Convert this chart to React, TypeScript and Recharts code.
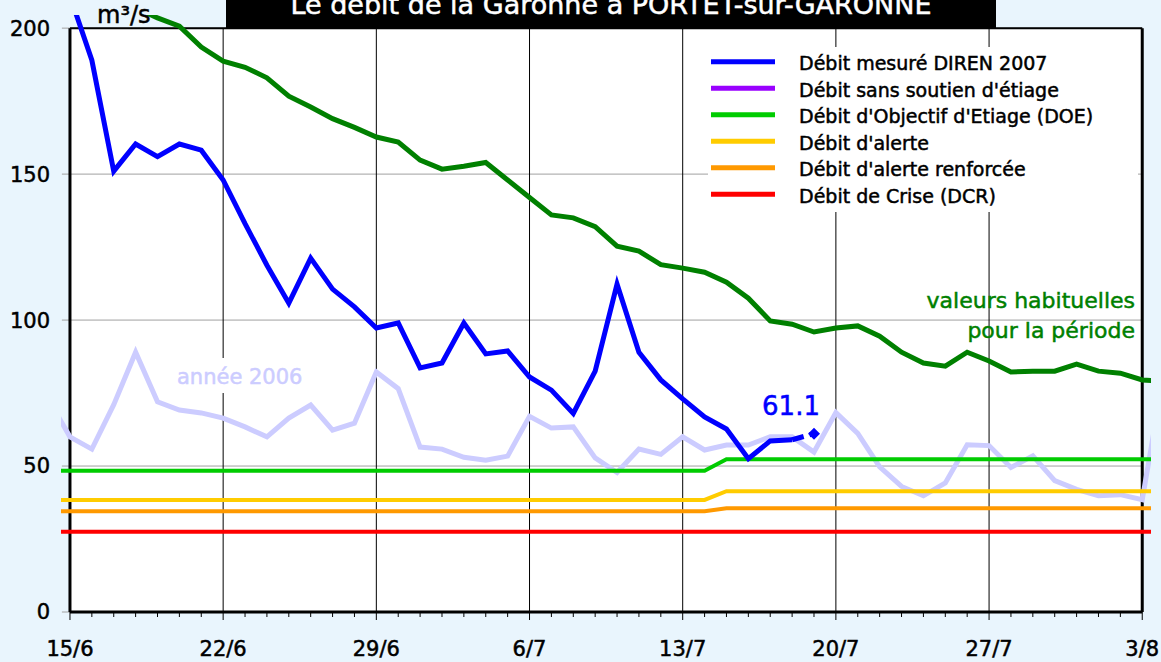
import React from "react"
import {
    LineChart,
    Line,
    XAxis,
    YAxis,
    ReferenceLine,
    ReferenceArea,
    Legend,
    LabelList,
} from "recharts"

// --- data (m³/s per day, day 0 = 15/6) ---
const firstDay = -1
const lastDay = 50
const weekTicks = [0, 7, 14, 21, 28, 35, 42, 49]
const weekLabels = ["15/6", "22/6", "29/6", "6/7", "13/7", "20/7", "27/7", "3/8"]
const yTicks = [0, 50, 100, 150, 200]

// measured flow 2007, starts at day 0
const mesure2007Start = 0
const mesure2007 = [
    211, 189, 151, 160.3, 156, 160.3, 158.2, 148, 133, 118.8,
    105.8, 121.2, 110.6, 104.5, 97.3, 99, 83.6, 85.3, 99, 88.4,
    89.4, 80.5, 76, 68, 82.5, 112.3, 89, 79.5, 73, 66.8,
    62.7, 52.5, 58.6, 59,
]
// dashed last estimate (day 33 -> day 34)
const estimeStart = 33
const estime = [59, 61.1]

// usual values for the period, starts at day 3
const habituelStart = 3
const habituel = [
    207, 203.5, 200.7, 193.5, 188.7, 186.6, 183, 176.7, 173, 169,
    166, 162.7, 161, 154.8, 151.7, 152.7, 154, 148, 142, 136,
    135, 132, 125.3, 123.6, 119, 117.8, 116.4, 113, 107.5, 99.7,
    98.6, 95.9, 97.3, 98, 94.5, 89, 85.3, 84.2, 89, 86,
    82.2, 82.5, 82.5, 84.9, 82.5, 81.8, 79.5, 79,
]

// year 2006, day -1 .. 50
const annee2006 = [
    73, 60, 55.8, 71, 89, 72, 69.2, 68.2, 66.4, 63.4,
    60, 66.4, 70.9, 62.3, 64.7, 82.2, 76.5, 56.5, 55.8, 53,
    52, 53.4, 67, 63, 63.4, 52.8, 47.8, 55.8, 54, 60,
    55.5, 57.2, 57.2, 60, 60, 54.8, 68.3, 61.2, 49.7, 43,
    39.8, 44.2, 57.3, 57, 49.5, 53.5, 45, 42, 39.8, 40.2,
    38.5, 82,
]

// thresholds, day -1 .. 50
const doe = [
    48.4, 48.4, 48.4, 48.4, 48.4, 48.4, 48.4, 48.4, 48.4, 48.4,
    48.4, 48.4, 48.4, 48.4, 48.4, 48.4, 48.4, 48.4, 48.4, 48.4,
    48.4, 48.4, 48.4, 48.4, 48.4, 48.4, 48.4, 48.4, 48.4, 48.4,
    48.4, 52.3, 52.3, 52.3, 52.3, 52.3, 52.3, 52.3, 52.3, 52.3,
    52.3, 52.3, 52.3, 52.3, 52.3, 52.3, 52.3, 52.3, 52.3, 52.3,
    52.3, 52.3,
]
const alerte = [
    38.4, 38.4, 38.4, 38.4, 38.4, 38.4, 38.4, 38.4, 38.4, 38.4,
    38.4, 38.4, 38.4, 38.4, 38.4, 38.4, 38.4, 38.4, 38.4, 38.4,
    38.4, 38.4, 38.4, 38.4, 38.4, 38.4, 38.4, 38.4, 38.4, 38.4,
    38.4, 41.4, 41.4, 41.4, 41.4, 41.4, 41.4, 41.4, 41.4, 41.4,
    41.4, 41.4, 41.4, 41.4, 41.4, 41.4, 41.4, 41.4, 41.4, 41.4,
    41.4, 41.4,
]
const renforcee = [
    34.5, 34.5, 34.5, 34.5, 34.5, 34.5, 34.5, 34.5, 34.5, 34.5,
    34.5, 34.5, 34.5, 34.5, 34.5, 34.5, 34.5, 34.5, 34.5, 34.5,
    34.5, 34.5, 34.5, 34.5, 34.5, 34.5, 34.5, 34.5, 34.5, 34.5,
    34.5, 35.5, 35.5, 35.5, 35.5, 35.5, 35.5, 35.5, 35.5, 35.5,
    35.5, 35.5, 35.5, 35.5, 35.5, 35.5, 35.5, 35.5, 35.5, 35.5,
    35.5, 35.5,
]
const crise = [
    27.5, 27.5, 27.5, 27.5, 27.5, 27.5, 27.5, 27.5, 27.5, 27.5,
    27.5, 27.5, 27.5, 27.5, 27.5, 27.5, 27.5, 27.5, 27.5, 27.5,
    27.5, 27.5, 27.5, 27.5, 27.5, 27.5, 27.5, 27.5, 27.5, 27.5,
    27.5, 27.5, 27.5, 27.5, 27.5, 27.5, 27.5, 27.5, 27.5, 27.5,
    27.5, 27.5, 27.5, 27.5, 27.5, 27.5, 27.5, 27.5, 27.5, 27.5,
    27.5, 27.5,
]

const legendItems = [
    { name: "Débit mesuré DIREN 2007", color: "#0000ff" },
    { name: "Débit sans soutien d'étiage", color: "#9900ff" },
    { name: "Débit d'Objectif d'Etiage (DOE)", color: "#00cc00" },
    { name: "Débit d'alerte", color: "#ffcc00" },
    { name: "Débit d'alerte renforcée", color: "#ff9900" },
    { name: "Débit de Crise (DCR)", color: "#ff0000" },
]

const FONT = "'DejaVu Sans', Verdana, sans-serif"
const BG = "#e9f5fd"
// a thin outline makes DejaVu look like the heavier Verdana of the original
const heavy = (color: string) => ({ fill: color, stroke: color, strokeWidth: 0.5 })

const pick = (arr: number[], start: number, day: number) => {
    const v = arr[day - start]
    return v === undefined ? null : v
}

const rows: any[] = []
for (let day = firstDay; day <= lastDay; day++) {
    rows.push({
        day,
        mesure: pick(mesure2007, mesure2007Start, day),
        estime: pick(estime, estimeStart, day),
        habituel: pick(habituel, habituelStart, day),
        a2006: pick(annee2006, firstDay, day),
        doe: pick(doe, firstDay, day),
        alerte: pick(alerte, firstDay, day),
        renforcee: pick(renforcee, firstDay, day),
        crise: pick(crise, firstDay, day),
    })
}

const allDays = rows.map((r) => r.day).filter((d) => d >= 0 && d <= 49)

const DayTick = (props: any) => {
    const { x, y, payload } = props
    const idx = weekTicks.indexOf(payload.value)
    const major = idx >= 0
    return (
        <g>
            <line x1={x} x2={x} y1={y} y2={y + (major ? 8 : 5)} stroke="#000" strokeWidth={1} />
            {major && (
                <text x={x} y={y + 44} textAnchor="middle" fontSize={21} fontFamily={FONT} {...heavy("#000")}>
                    {weekLabels[idx]}
                </text>
            )}
        </g>
    )
}

const LegendBox = () => (
    <svg width={430} height={165} style={{ display: "block", background: "#fff" }}>
        {legendItems.map((it, i) => (
            <g key={it.name}>
                <line
                    x1={3}
                    x2={67}
                    y1={14.7 + i * 26.5}
                    y2={14.7 + i * 26.5}
                    stroke={it.color}
                    strokeWidth={5}
                />
                <text x={91} y={23 + i * 26.5} fontSize={19} fontFamily={FONT} {...heavy("#000")}>
                    {it.name}
                </text>
            </g>
        ))}
    </svg>
)

const lastEstimateDay = estimeStart + estime.length - 1

const EstimateDot = (p: any) => {
    if (p.payload?.day !== lastEstimateDay || p.cx == null) return <g key={p.index} />
    const { cx, cy } = p
    return (
        <path
            key={p.index}
            d={`M${cx},${cy - 6} L${cx + 6},${cy} L${cx},${cy + 6} L${cx - 6},${cy} Z`}
            fill="#0000ff"
        />
    )
}

const EstimateLabel = (p: any) => {
    const x = p.x ?? p.viewBox?.x
    const y = p.y ?? p.viewBox?.y
    if (p.value !== estime[estime.length - 1] || x == null) return null
    return (
        <text x={x - 23} y={y - 19} textAnchor="middle" fontSize={26} fontFamily={FONT} {...heavy("#0000ff")}>
            {p.value}
        </text>
    )
}

export default function App() {
    return (
        <div
            style={{
                position: "fixed",
                left: 0,
                top: 0,
                width: 1161,
                height: 662,
                background: BG,
                fontFamily: FONT,
            }}
        >
            <LineChart
                width={1161}
                height={662}
                data={rows}
                margin={{ top: 15, right: 10, bottom: 0, left: 11 }}
            >
                <XAxis
                    dataKey="day"
                    type="number"
                    domain={[-0.41, 49.4]}
                    allowDataOverflow
                    ticks={allDays}
                    interval={0}
                    tick={<DayTick />}
                    tickSize={0}
                    tickMargin={0}
                    axisLine={false}
                    tickLine={false}
                    height={50}
                />
                <YAxis
                    type="number"
                    domain={[0, 204.5]}
                    allowDataOverflow
                    ticks={yTicks}
                    interval={0}
                    tick={{ fontSize: 21, fontFamily: FONT, ...heavy("#000") }}
                    tickSize={0}
                    tickMargin={11}
                    axisLine={false}
                    tickLine={false}
                    width={50}
                />

                {/* white plot area */}
                <ReferenceArea x1={0} x2={49} y1={0} y2={200} fill="#fff" fillOpacity={1} stroke="none" />

                {/* horizontal grid + y tick marks */}
                {yTicks.map((v) => (
                    <ReferenceLine
                        key={"h" + v}
                        segment={[{ x: -0.37, y: v }, { x: 49, y: v }]}
                        stroke="#a0a0a0"
                        strokeWidth={1}
                    />
                ))}
                {/* weekly vertical grid */}
                {weekTicks.slice(1, -1).map((d) => (
                    <ReferenceLine
                        key={"v" + d}
                        segment={[{ x: d, y: 0 }, { x: d, y: 200 }]}
                        stroke="#000"
                        strokeWidth={1}
                    />
                ))}
                {/* frame */}
                <ReferenceLine segment={[{ x: 0, y: 200 }, { x: 49, y: 200 }]} stroke="#000" strokeWidth={2} />
                <ReferenceLine segment={[{ x: 49, y: 0 }, { x: 49, y: 200 }]} stroke="#000" strokeWidth={3} />
                <ReferenceLine segment={[{ x: 0, y: 0 }, { x: 0, y: 200 }]} stroke="#000" strokeWidth={3} />
                <ReferenceLine segment={[{ x: 0, y: 0 }, { x: 49, y: 0 }]} stroke="#000" strokeWidth={3} />

                <Line dataKey="a2006" stroke="#ccccff" strokeWidth={5} dot={false} isAnimationActive={false} />
                <Line dataKey="crise" stroke="#ff0000" strokeWidth={4} dot={false} isAnimationActive={false} />
                <Line dataKey="renforcee" stroke="#ff9900" strokeWidth={4} dot={false} isAnimationActive={false} />
                <Line dataKey="alerte" stroke="#ffcc00" strokeWidth={4} dot={false} isAnimationActive={false} />
                <Line dataKey="doe" stroke="#00cc00" strokeWidth={4} dot={false} isAnimationActive={false} />
                <Line dataKey="habituel" stroke="#008000" strokeWidth={5} dot={false} isAnimationActive={false} />
                <Line dataKey="mesure" stroke="#0000ff" strokeWidth={5} dot={false} isAnimationActive={false} />
                <Line
                    dataKey="estime"
                    stroke="#0000ff"
                    strokeWidth={5}
                    strokeDasharray="12 6"
                    dot={<EstimateDot />}
                    isAnimationActive={false}
                >
                    <LabelList dataKey="estime" content={<EstimateLabel />} />
                </Line>

                <Legend
                    layout="vertical"
                    align="center"
                    verticalAlign="middle"
                    wrapperStyle={{ left: 708, top: 47, width: 430, height: 165, margin: 0 }}
                    content={() => <LegendBox />}
                />
            </LineChart>

            <svg
                width={1161}
                height={662}
                style={{ position: "absolute", left: 0, top: 0, pointerEvents: "none" }}
                fontFamily={FONT}
            >
                <rect x={226} y={0} width={770} height={28} fill="#000" />
                <text x={611} y={14} textAnchor="middle" fontSize={27} {...heavy("#fff")}>
                    Le débit de la Garonne à PORTET-sur-GARONNE
                </text>
                <text x={97} y={23} fontSize={24} {...heavy("#000")}>
                    m³/s
                </text>
                <rect x={170} y={358} width={142} height={35} fill="#fff" />
                <text x={177} y={384} fontSize={21} {...heavy("#ccccff")}>
                    année 2006
                </text>
                <text x={1135} y={308} textAnchor="end" fontSize={22} {...heavy("#008000")}>
                    valeurs habituelles
                </text>
                <text x={1135} y={338} textAnchor="end" fontSize={22} {...heavy("#008000")}>
                    pour la période
                </text>
            </svg>
        </div>
    )
}
